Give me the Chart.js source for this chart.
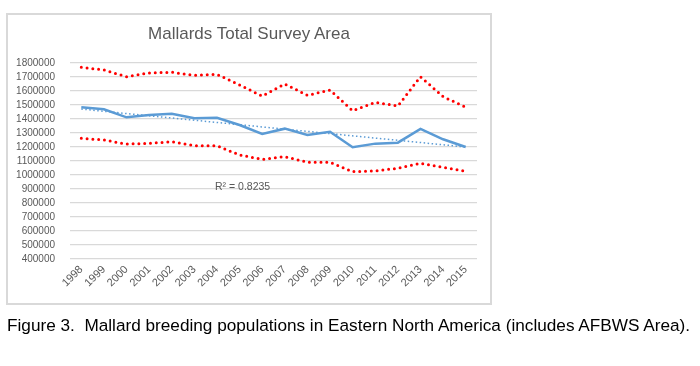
<!DOCTYPE html>
<html>
<head>
<meta charset="utf-8">
<script src="https://cdn.jsdelivr.net/npm/chart.js@4.4.0/dist/chart.umd.min.js"></script>
<style>
  html, body { margin: 0; padding: 0; background: #fff; }
  #wrap { position: relative; width: 700px; height: 366px; overflow: hidden; font-family: "Liberation Sans", Arial, sans-serif; }
  #box { position: absolute; left: 6px; top: 13px; width: 482px; height: 288px; border: 2px solid #d9d9d9; }
  #c { position: absolute; left: 0; top: 0; }
  #title { position: absolute; left: 8px; width: 482px; top: 24px; text-align: center; font-size: 17px; color: #595959; white-space: nowrap; }
  #r2 { position: absolute; left: 215px; top: 180px; font-size: 10.5px; color: #595959; white-space: nowrap; }
  #caption { position: absolute; left: 7px; top: 315px; font-size: 15px; color: #000; white-space: nowrap; }
</style>
</head>
<body>
<div id="wrap">
  <div id="box"></div>
  <canvas id="c" width="700" height="366"></canvas>
  <div id="title">Mallards Total Survey Area</div>
  <div id="r2">R² = 0.8235</div>
  <div id="caption">Figure 3.&nbsp; Mallard breeding populations in Eastern North America (includes AFBWS Area).</div>
</div>
<script>
const years = ['1998','1999','2000','2001','2002','2003','2004','2005','2006','2007','2008','2009','2010','2011','2012','2013','2014','2015'];
const mallards = [1484000,1469000,1412000,1429000,1438000,1405000,1409000,1357000,1293000,1331000,1286000,1309000,1198000,1224000,1231000,1329000,1255000,1200000];
const upperCI = [1769000,1750000,1702000,1729000,1734000,1712000,1719000,1643000,1564000,1650000,1569000,1607000,1459000,1519000,1493000,1702000,1560000,1484000];
const lowerCI = [1262000,1250000,1221000,1226000,1238000,1209000,1209000,1143000,1112000,1131000,1091000,1091000,1024000,1029000,1048000,1084000,1055000,1026000];
const trend = [1471000,null,null,null,null,null,null,null,null,null,null,null,null,null,null,null,null,1200000];
const yMin = 400000, yMax = 1800000, yStep = 100000;

// fit caption width
(function(){
  const cap = document.getElementById('caption');
  const target = 683;
  const w = cap.getBoundingClientRect().width;
  cap.style.fontSize = (15 * target / w).toFixed(2) + 'px';
})();

const gridColor = '#d9d9d9';
new Chart(document.getElementById('c'), {
  type: 'line',
  data: {
    labels: years,
    datasets: [
      { label: 'Trend', data: trend, spanGaps: true, borderColor: '#5b9bd5', borderWidth: 1.5, borderDash: [1.5, 2.5], pointRadius: 0, tension: 0, fill: false },
      { label: 'Mallards', data: mallards, borderColor: '#5b9bd5', borderWidth: 2.5, pointRadius: 0, tension: 0, fill: false },
      { label: 'Upper', data: upperCI, borderColor: '#ff0000', borderWidth: 3, borderDash: [0, 5.8], borderCapStyle: 'round', pointRadius: 0, tension: 0, fill: false },
      { label: 'Lower', data: lowerCI, borderColor: '#ff0000', borderWidth: 3, borderDash: [0, 5.8], borderCapStyle: 'round', pointRadius: 0, tension: 0, fill: false }
    ]
  },
  options: {
    responsive: false,
    animation: false,
    events: [],
    layout: { padding: { left: 0, right: 223, top: 63, bottom: 62 } },
    plugins: { legend: { display: false }, tooltip: { enabled: false }, title: { display: false } },
    scales: {
      x: {
        offset: true,
        grid: { display: false, drawTicks: false },
        border: { display: false },
        ticks: { minRotation: 45, maxRotation: 45, autoSkip: false, color: '#595959', font: { family: 'Liberation Sans', size: 11 }, padding: 4 },
        afterFit: s => { s.height = 45; }
      },
      y: {
        min: yMin, max: yMax,
        grid: { color: gridColor, lineWidth: 1.3, drawTicks: false },
        border: { display: false },
        ticks: { stepSize: yStep, autoSkip: false, color: '#595959', font: { family: 'Liberation Sans', size: 10 }, padding: 15, callback: v => String(v) },
        afterFit: s => { s.width = 70; }
      }
    }
  }
});
</script>
</body>
</html>
